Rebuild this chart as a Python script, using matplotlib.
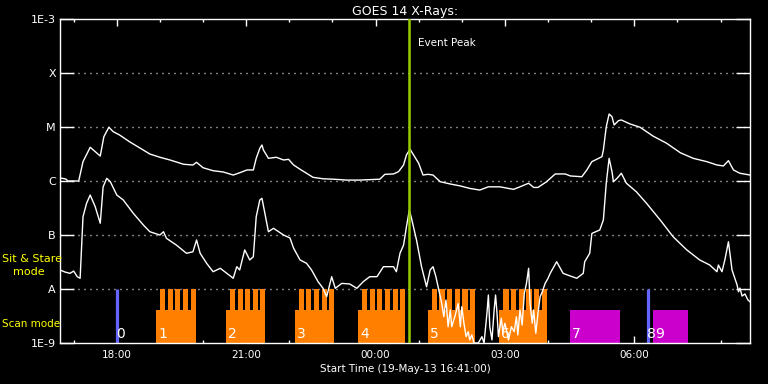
import numpy as np
import pandas as pd
import matplotlib
matplotlib.use("Agg")
import matplotlib.pyplot as plt
import matplotlib.dates as mdates

start = pd.Timestamp("2013-05-19 16:41:00")

# GOES 14 long channel, minutes after start / flux (W m^-2)
long_min = [0, 8, 11, 26, 32, 42, 56, 61, 68, 74, 83, 97, 111, 125, 139, 153, 172, 185, 190, 199,
            213, 227, 241, 250, 260, 269, 273, 278, 281, 283, 290, 301, 311, 318, 325, 334, 343, 352, 366, 380,
            399, 417, 445, 452, 464, 471, 478, 482, 487, 492, 499, 505, 512, 519, 529, 543, 557, 570, 584, 596,
            612, 631, 640, 652, 659, 665, 677, 689, 703, 710, 726, 733, 740, 754, 756, 760, 764, 768, 771, 777,
            781, 793, 807, 825, 844, 863, 881, 900, 914, 923, 930, 937, 946, 960]
long_flux = [1.14e-6, 1.09e-6, 1.0e-6, 1.0e-6, 2.28e-6, 4.21e-6, 2.9e-6, 6.6e-6, 9.9e-6, 8.2e-6,
             7.1e-6, 5.3e-6, 4.1e-6, 3.16e-6, 2.75e-6, 2.45e-6, 2.04e-6, 1.98e-6, 2.22e-6, 1.76e-6,
             1.55e-6, 1.47e-6, 1.29e-6, 1.42e-6, 1.6e-6, 1.6e-6, 2.63e-6, 4.03e-6, 4.64e-6, 3.75e-6,
             2.63e-6, 2.75e-6, 2.45e-6, 2.52e-6, 1.98e-6, 1.65e-6, 1.39e-6, 1.17e-6, 1.10e-6, 1.08e-6,
             1.04e-6, 1.04e-6, 1.08e-6, 1.33e-6, 1.35e-6, 1.49e-6, 1.98e-6, 3.03e-6, 3.87e-6, 3.03e-6,
             2.13e-6, 1.29e-6, 1.33e-6, 1.29e-6, 9.7e-7, 8.8e-7, 8.1e-7, 7.3e-7, 6.8e-7, 7.8e-7,
             7.8e-7, 7.0e-7, 7.8e-7, 9.1e-7, 7.6e-7, 7.6e-7, 9.7e-7, 1.35e-6, 1.35e-6, 1.24e-6,
             1.2e-6, 1.6e-6, 2.28e-6, 2.82e-6, 3.75e-6, 1.01e-5, 1.74e-5, 1.55e-5, 1.09e-5, 1.31e-5,
             1.35e-5, 1.14e-5, 9.9e-6, 6.8e-6, 5.0e-6, 3.34e-6, 2.63e-6, 2.28e-6, 1.98e-6, 1.9e-6,
             2.38e-6, 1.6e-6, 1.39e-6, 1.29e-6]

# short channel
short_min = [0, 7, 14, 19, 24, 28, 32, 37, 42, 49, 56, 60, 65, 70, 79, 88, 102, 116, 125, 139,
             144, 148, 162, 176, 185, 190, 195, 204, 213, 223, 232, 241, 246, 250, 257, 264, 269, 273, 278, 281,
             285, 290, 297, 311, 320, 325, 334, 343, 350, 359, 366, 371, 378, 383, 392, 403, 413, 422, 431, 441,
             450, 464, 468, 473, 478, 482, 486, 489, 496, 503, 510, 515, 519, 523, 526, 531, 534, 537, 540, 543,
             545, 550, 554, 557, 559, 562, 565, 568, 570, 573, 576, 582, 587, 590, 594, 596, 598, 601, 604, 606,
             608, 610, 614, 616, 619, 624, 628, 632, 635, 637, 640, 643, 646, 649, 652, 654, 657, 659, 662, 665,
             668, 671, 675, 679, 682, 691, 700, 710, 719, 728, 730, 737, 740, 751, 756, 760, 764, 768, 770, 775,
             781, 788, 802, 816, 835, 853, 872, 890, 904, 914, 916, 921, 925, 930, 935, 942, 944, 946, 949, 953,
             957, 960]
short_flux = [2.25e-8, 2.06e-8, 1.95e-8, 2.15e-8, 1.69e-8, 1.58e-8, 2.18e-7, 3.87e-7, 5.5e-7, 3.34e-7,
              1.65e-7, 7.8e-7, 1.12e-6, 9.7e-7, 5.5e-7, 4.45e-7, 2.52e-7, 1.53e-7, 1.15e-7, 1.0e-7,
              1.15e-7, 8.7e-8, 6.5e-8, 4.58e-8, 4.9e-8, 8.1e-8, 4.58e-8, 2.99e-8, 2.09e-8, 2.42e-8,
              1.95e-8, 1.58e-8, 2.59e-8, 2.25e-8, 5.3e-8, 3.45e-8, 3.96e-8, 2.18e-7, 4.45e-7, 4.78e-7,
              2.52e-7, 1.15e-7, 1.33e-7, 1.0e-7, 8.8e-8, 5.7e-8, 3.45e-8, 2.99e-8, 2.25e-8, 1.37e-8,
              1.03e-8, 7.2e-9, 1.69e-8, 1.03e-8, 1.27e-8, 1.24e-8, 1.03e-8, 1.37e-8, 1.69e-8, 1.69e-8,
              2.59e-8, 2.59e-8, 2.09e-8, 4.58e-8, 6.5e-8, 1.42e-7, 2.9e-7, 2.04e-7, 8.1e-8, 2.59e-8,
              1.1e-8, 2.25e-8, 2.59e-8, 1.69e-8, 1.1e-8, 5.5e-9, 3.07e-9, 6.26e-9, 2.0e-9, 4.09e-9,
              2.0e-9, 3.3e-9, 5.4e-9, 2.0e-9, 4.7e-9, 2.32e-9, 1.31e-9, 1.62e-9, 1.14e-9, 1.41e-9,
              1.0e-9, 1.0e-9, 1.31e-9, 1.0e-9, 3.55e-9, 7.74e-9, 2.0e-9, 1.14e-9, 4.09e-9, 7.74e-9,
              3.55e-9, 1.31e-9, 2.87e-9, 1.62e-9, 2.32e-9, 1.14e-9, 2.0e-9, 1.62e-9, 3.07e-9, 1.41e-9,
              4.09e-9, 2.15e-9, 8.3e-9, 1.27e-8, 2.42e-8, 5.4e-9, 2.32e-9, 4.09e-9, 1.51e-9, 3.55e-9,
              7.2e-9, 8.9e-9, 1.27e-8, 1.58e-8, 1.95e-8, 3.2e-8, 1.95e-8, 1.74e-8, 1.58e-8, 1.95e-8,
              3.2e-8, 4.58e-8, 1.07e-7, 1.24e-7, 1.9e-7, 9.1e-7, 2.63e-6, 1.49e-6, 9.7e-7, 1.12e-6,
              1.39e-6, 9.1e-7, 6.3e-7, 3.87e-7, 1.9e-7, 9.3e-8, 5.3e-8, 3.45e-8, 2.78e-8, 2.09e-8,
              2.78e-8, 2.09e-8, 3.45e-8, 7.5e-8, 2.25e-8, 1.19e-8, 8.9e-9, 1.04e-8, 7.4e-9, 8.1e-9,
              6.3e-9, 5.8e-9]

event_peak = "00:46"

# scan mode blocks with sit & stare fingers
scan_labels = ["1", "2", "3", "4", "5", "6"]
scan_start = ["18:55", "20:32", "22:08", "23:36", "01:13", "02:52"]
scan_end = ["19:50", "21:26", "23:02", "00:41", "02:18", "03:58"]
stare_starts = [["19:00", "19:11", "19:21", "19:32", "19:43"],
                ["20:37", "20:48", "20:58", "21:09", "21:19"],
                ["22:13", "22:23", "22:34", "22:45", "22:55"],
                ["23:41", "23:52", "00:02", "00:13", "00:24", "00:34"],
                ["01:18", "01:29", "01:39", "01:50", "02:01", "02:11"],
                ["02:58", "03:08", "03:19", "03:30", "03:40", "03:51"]]
stare_len = 7  # minutes

raster_labels = ["7", "9"]
raster_start = ["04:31", "06:26"]
raster_end = ["05:40", "07:15"]

marker_labels = ["0", "8"]
marker_time = ["18:00", "06:19"]

y_ticks = [1e-9, 1e-8, 1e-7, 1e-6, 1e-5, 1e-4, 1e-3]
y_labels = ["1E-9", "A", "B", "C", "M", "X", "1E-3"]
scan_top = 4.1e-9
stare_top = 1e-8


def clock(hhmm):
    t = pd.Timestamp("2013-05-19 " + hhmm)
    if t < start:
        t += pd.Timedelta(days=1)
    return t.to_pydatetime()


fig = plt.figure(figsize=(7.68, 3.84), dpi=100, facecolor="black")
ax = fig.add_axes([60 / 768, 1 - 343 / 384, 690 / 768, 324 / 384])
ax.set_facecolor("black")
ax.set_yscale("log")
ax.set_ylim(1e-9, 1e-3)
ax.set_xlim(start.to_pydatetime(), (start + pd.Timedelta(hours=16)).to_pydatetime())

for lvl in y_ticks[1:-1]:
    ax.axhline(lvl, color="white", lw=1, dashes=(0.72, 3.6), zorder=1)

orange = "#ff8000"
magenta = "#cc00cc"
for lbl, s, e, fingers in zip(scan_labels, scan_start, scan_end, stare_starts):
    ax.fill_between([clock(s), clock(e)], 1e-9, scan_top, color=orange, lw=0, zorder=2)
    for f in fingers:
        f0 = clock(f)
        f1 = f0 + pd.Timedelta(minutes=stare_len).to_pytimedelta()
        ax.fill_between([f0, f1], 1e-9, stare_top, color=orange, lw=0, zorder=2)
for s, e in zip(raster_start, raster_end):
    ax.fill_between([clock(s), clock(e)], 1e-9, scan_top, color=magenta, lw=0, zorder=2)
for t in marker_time:
    ax.vlines(clock(t), 1e-9, stare_top, color="#6464ff", lw=2.3, zorder=2)

t_long = [(start + pd.Timedelta(minutes=m)).to_pydatetime() for m in long_min]
t_short = [(start + pd.Timedelta(minutes=m)).to_pydatetime() for m in short_min]
ax.plot(t_long, long_flux, color="white", lw=1, zorder=3)
ax.plot(t_short, short_flux, color="white", lw=1, zorder=3)

# block numbers
for lbl, t in zip(scan_labels + raster_labels, scan_start + raster_start):
    ax.annotate(lbl, xy=(clock(t), 1e-9), xytext=(1.2, 3.5), textcoords="offset points",
                color="white", fontsize=10, ha="left", va="baseline", zorder=5)
for lbl, t in zip(marker_labels, marker_time):
    ax.annotate(lbl, xy=(clock(t), 1e-9), xytext=(-0.6, 3.5), textcoords="offset points",
                color="white", fontsize=10, ha="left", va="baseline", zorder=5)

ev = clock(event_peak)
ax.axvline(ev, color="#99cc00", lw=1.8, zorder=4)
ax.annotate("Event Peak", xy=(ev, 1), xycoords=("data", "axes fraction"),
            xytext=(7, -17), textcoords="offset points", color="white",
            fontsize=7.5, ha="left", va="center")

ax.xaxis.set_major_locator(mdates.HourLocator(byhour=range(0, 24, 3)))
ax.xaxis.set_minor_locator(mdates.HourLocator())
ax.xaxis.set_major_formatter(mdates.DateFormatter("%H:%M"))
ax.tick_params(axis="x", which="both", direction="in", top=True, bottom=True,
               colors="white", labelsize=7.5, pad=5)
ax.tick_params(axis="x", which="major", length=5, width=1)
ax.tick_params(axis="x", which="minor", length=2.5, width=1)
ax.set_yticks(y_ticks, y_labels)
ax.yaxis.set_minor_locator(plt.NullLocator())
ax.tick_params(axis="y", which="major", direction="in", left=True, right=True,
               length=10, width=1, colors="white", labelsize=8, pad=3)
for sp in ax.spines.values():
    sp.set_color("white")
    sp.set_linewidth(1)

ax.set_title("GOES 14 X-Rays:", color="white", fontsize=9, pad=3)
ax.set_xlabel("Start Time (19-May-13 16:41:00)", color="white", fontsize=7.5, labelpad=3)

fig.text(2 / 768, 1 - 259 / 384, "Sit & Stare", color="yellow", fontsize=8, ha="left", va="center")
fig.text(13 / 768, 1 - 272 / 384, "mode", color="yellow", fontsize=8, ha="left", va="center")
fig.text(2 / 768, 1 - 324 / 384, "Scan mode", color="yellow", fontsize=7.5, ha="left", va="center")

fig.savefig("out.png", dpi=100, facecolor="black")
